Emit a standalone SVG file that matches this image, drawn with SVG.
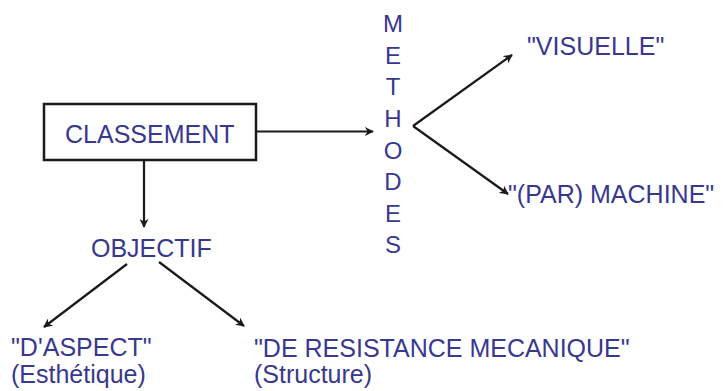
<svg xmlns="http://www.w3.org/2000/svg" width="723" height="391" viewBox="0 0 723 391">
<style>
text{font-family:"Liberation Sans",Arial,sans-serif;font-size:25px;fill:#38388f}
.ln{stroke:#1a1a1a;stroke-width:2.2;fill:none}
.v{text-anchor:middle;font-size:24px}
</style>
<defs>
<marker id="ah" viewBox="0 0 10 10" refX="9" refY="5" markerWidth="9" markerHeight="9" markerUnits="userSpaceOnUse" orient="auto">
<path d="M0,0 L10,5 L0,10 L3,5 z" fill="#1a1a1a"/>
</marker>
</defs>
<rect width="723" height="391" fill="#ffffff"/>
<g id="connectors">
<line class="ln" x1="256" y1="131.5" x2="373" y2="131.5" marker-end="url(#ah)"/>
<line class="ln" x1="144" y1="160" x2="144" y2="227" marker-end="url(#ah)"/>
<line class="ln" x1="413" y1="126" x2="512" y2="55" marker-end="url(#ah)"/>
<line class="ln" x1="413" y1="126" x2="508" y2="194" marker-end="url(#ah)"/>
<line class="ln" x1="127" y1="264" x2="44" y2="327" marker-end="url(#ah)"/>
<line class="ln" x1="159" y1="262" x2="244" y2="326" marker-end="url(#ah)"/>
</g>
<g id="classement">
<rect x="44" y="104" width="212" height="56" fill="none" stroke="#1a1a1a" stroke-width="2.5"/>
<text x="65" y="143">CLASSEMENT</text>
</g>
<g id="objectif">
<text x="91" y="257">OBJECTIF</text>
</g>
<g id="methodes">
<text class="v" x="393" y="32">M</text>
<text class="v" x="393" y="63.5">E</text>
<text class="v" x="393" y="95">T</text>
<text class="v" x="393" y="127">H</text>
<text class="v" x="393" y="158.5">O</text>
<text class="v" x="393" y="190">D</text>
<text class="v" x="393" y="221.5">E</text>
<text class="v" x="393" y="253">S</text>
</g>
<g id="visuelle">
<text x="527" y="55">"VISUELLE"</text>
</g>
<g id="machine">
<text x="508" y="203">"(PAR) MACHINE"</text>
</g>
<g id="aspect">
<text x="11" y="356">"D'ASPECT"</text>
<text x="11" y="383">(Esthétique)</text>
</g>
<g id="resistance">
<text x="254" y="357">"DE RESISTANCE MECANIQUE"</text>
<text x="254" y="383">(Structure)</text>
</g>
</svg>
